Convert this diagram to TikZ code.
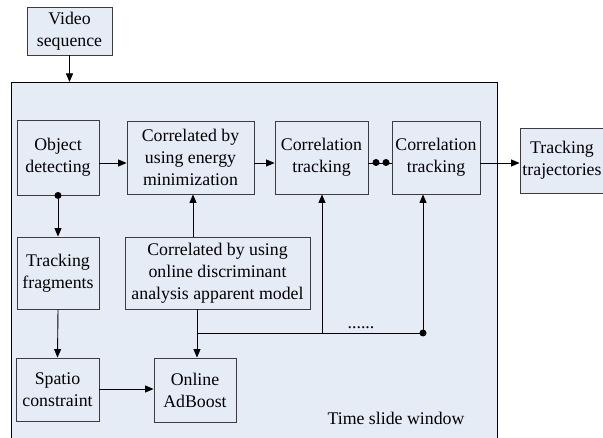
\documentclass[tikz,border=0pt]{standalone}
\usepackage{fontspec}
\setmainfont{Liberation Serif}
\newfontfamily\tnr{Liberation Serif}
\usetikzlibrary{arrows.meta}
\definecolor{winfill}{RGB}{230,236,246}
\definecolor{edge}{RGB}{60,60,60}
\tikzset{
  box/.style={draw=edge, line width=0.9pt, fill=winfill, align=center, inner sep=0pt,
    font=\tnr\fontsize{17.8}{22}\selectfont},
  link/.style={draw=black, line width=0.9pt, -{Triangle[length=8.5pt,width=7pt]}},
  plain/.style={draw=black, line width=0.9pt},
  dot/.style={circle, fill=black, inner sep=0pt, minimum size=7pt},
  label/.style={font=\tnr\fontsize{17.8}{22}\selectfont, inner sep=0pt}
}
\begin{document}
\begin{tikzpicture}[x=1pt,y=-1pt]
\useasboundingbox (0,0) rectangle (603,438);
\clip (0,0) rectangle (603,438);
\fill[white] (0,0) rectangle (603,438);
% window
\node[draw=black, line width=1.1pt, fill=winfill, minimum width=486pt, minimum height=370pt, inner sep=0pt, anchor=north west] (win) at (11,82) {};
% boxes
\node[box, minimum width=85pt, minimum height=48pt] (video) at (69.5,31) {Video\\sequence};
\node[box, minimum width=82pt, minimum height=75pt] (objdet) at (58,157.5) {Object\\detecting};
\node[box, minimum width=127pt, minimum height=73pt] (energy) at (190.5,157.5) {Correlated by\\using energy\\minimization};
\node[box, minimum width=93pt, minimum height=73pt] (corr1) at (321.5,157.5) {Correlation\\tracking};
\node[box, minimum width=88pt, minimum height=73pt] (corr2) at (436,157.5) {Correlation\\tracking};
\node[box, minimum width=84pt, minimum height=65pt] (traj) at (562,160.5) {Tracking\\trajectories};
\node[box, minimum width=82pt, minimum height=72pt] (frag) at (58,273) {Tracking\\fragments};
\node[box, minimum width=185pt, minimum height=72pt] (disc) at (217.5,273) {Correlated by using\\online discriminant\\analysis apparent model};
\node[box, minimum width=83pt, minimum height=63pt] (spatio) at (57.5,389.5) {Spatio\\constraint};
\node[box, minimum width=82pt, minimum height=64pt] (ada) at (195,390) {Online\\AdBoost};
% helper coordinates
\coordinate (rowy) at (0,163);
\coordinate (busy) at (0,333);
\coordinate (c1x) at (322,0);
\coordinate (c2x) at (423,0);
\coordinate (dupx) at (193,0);
\coordinate (ddownx) at (197,0);
% connectors
\draw[link] (video.south) -- (video.south |- win.north);
\draw[link] (objdet.east |- rowy) -- (energy.west |- rowy);
\draw[link] (energy.east |- rowy) -- (corr1.west |- rowy);
\draw[plain] (corr1.east |- rowy) -- (corr2.west |- rowy);
\node[dot] (d1) at (376,162.5) {};
\node[dot] (d2) at (386,162.5) {};
\draw[link] (corr2.east |- rowy) -- (traj.west |- rowy);
\node[dot] (d3) at (objdet.south) {};
\draw[link] (d3) -- (frag.north);
\draw[link] (frag.south) -- (spatio.north);
\draw[link] (spatio.east |- 0,389) -- (ada.west |- 0,389);
\draw[link] (dupx |- disc.north) -- (dupx |- energy.south);
\draw[link] (ddownx |- disc.south) -- (ddownx |- ada.north);
\node[dot] (d4) at (c2x |- busy) {};
\draw[plain] (ddownx |- busy) -- (d4.center);
\draw[link] (c1x |- busy) -- (c1x |- corr1.south);
\draw[link] (d4.center) -- (c2x |- corr2.south);
\node[label] (ell) at (361,328) {......};
\node[label] (tsw) at (396,418) {Time slide window};
\end{tikzpicture}
\end{document}
